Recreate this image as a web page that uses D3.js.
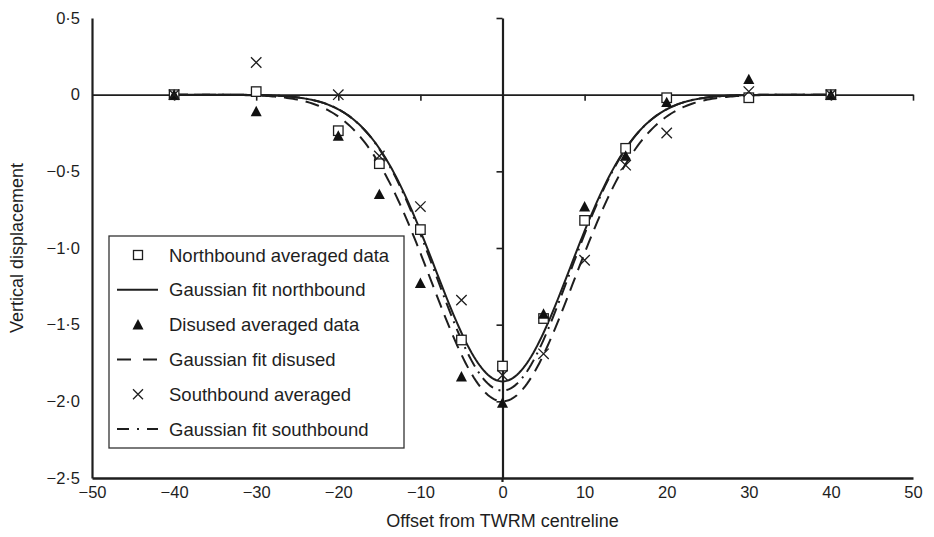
<!DOCTYPE html>
<html>
<head>
<meta charset="utf-8">
<script src="https://cdn.jsdelivr.net/npm/d3@7"></script>
<style>
  html, body { margin: 0; padding: 0; background: #fff; }
  svg { display: block; font-family: "Liberation Sans", Arial, sans-serif; }
</style>
</head>
<body>
<svg id="chart" width="934" height="537"></svg>
<script>
// Offsets (m) at which settlement was averaged
const offsets = [-40, -30, -20, -15, -10, -5, 0, 5, 10, 15, 20, 30, 40];

// Averaged vertical displacement for each tunnel
const northbound = [0, 0.02, -0.235, -0.45, -0.88, -1.60, -1.77, -1.46, -0.82, -0.35, -0.02, -0.02, 0];
const disused    = [0, -0.11, -0.27, -0.65, -1.23, -1.84, -2.01, -1.43, -0.73, -0.40, -0.05, 0.10, 0];
const southbound = [0, 0.21, 0.0, -0.40, -0.73, -1.34, -1.83, -1.69, -1.08, -0.46, -0.25, 0.02, 0];

// Gaussian fit parameters: peak displacement and trough width
const fitNames  = ["northbound", "disused", "southbound"];
const fitPeaks  = [-1.87, -2.00, -1.93];
const fitWidths = [8.2, 8.7, 8.15];
const fitDashes = [null, "14,8", "14,6,2,6"];
const fitRange  = [-40, 40];

const xTicks = [-50, -40, -30, -20, -10, 0, 10, 20, 30, 40, 50];
const yTicks = [0.5, 0, -0.5, -1.0, -1.5, -2.0, -2.5];

const legendItems = [
  { label: "Northbound averaged data", type: "square" },
  { label: "Gaussian fit northbound", type: "line", dash: null },
  { label: "Disused averaged data", type: "triangle" },
  { label: "Gaussian fit disused", type: "line", dash: "14,12" },
  { label: "Southbound averaged", type: "cross" },
  { label: "Gaussian fit southbound", type: "line", dash: "12,8,2,8" }
];

const svg = d3.select("#chart");
const x = d3.scaleLinear().domain([-50, 50]).range([92, 913]);
const y = d3.scaleLinear().domain([-2.5, 0.5]).range([478, 18]);

const fmtY = d => d === 0 ? "0" : d3.format(".1f")(d).replace(".", "\u00B7");
const fmtX = d => d3.format("d")(d);
const ink = "#1e1e1e";

// Left axis with labels
const left = svg.append("g").attr("transform", `translate(${x(-50)},0)`)
  .call(d3.axisLeft(y).tickValues(yTicks).tickFormat(fmtY).tickSize(0).tickSizeOuter(0).tickPadding(12));
left.select(".domain").attr("stroke", ink).attr("stroke-width", 2.2);
left.selectAll("text").attr("font-size", 16.5).attr("fill", ink);

// Bottom axis with labels
const bottom = svg.append("g").attr("transform", `translate(0,${y(-2.5)})`)
  .call(d3.axisBottom(x).tickValues(xTicks).tickFormat(fmtX).tickSize(0).tickSizeOuter(0).tickPadding(8));
bottom.select(".domain").attr("stroke", ink).attr("stroke-width", 2.6);
bottom.selectAll("text").attr("font-size", 16.5).attr("fill", ink);

// Zero displacement line with downward ticks
const zero = svg.append("g").attr("transform", `translate(0,${y(0)})`)
  .call(d3.axisBottom(x).tickValues(xTicks.filter(v => v > -50)).tickFormat("").tickSize(6).tickSizeOuter(0));
zero.select(".domain").attr("stroke", ink).attr("stroke-width", 1.6);
zero.selectAll(".tick line").attr("stroke", ink).attr("stroke-width", 1.6);

// Centreline axis with ticks to the left
const centre = svg.append("g").attr("transform", `translate(${x(0)},0)`)
  .call(d3.axisLeft(y).tickValues(yTicks.filter(v => v !== 0 && v !== -2.5)).tickFormat("").tickSize(6).tickSizeOuter(0));
centre.select(".domain").attr("stroke", ink).attr("stroke-width", 2.2);
centre.selectAll(".tick line").attr("stroke", ink).attr("stroke-width", 1.6);
centre.append("line").attr("x1", 0).attr("x2", 0).attr("y1", y(-2.5)).attr("y2", y(-2.5) + 4)
  .attr("stroke", ink).attr("stroke-width", 2.2);

// Axis titles
svg.append("text").attr("x", x(0)).attr("y", 527).attr("text-anchor", "middle")
  .attr("font-size", 18).attr("fill", ink).text("Offset from TWRM centreline");
svg.append("text").attr("transform", `translate(23,${(y(0.5) + y(-2.5)) / 2}) rotate(-90)`)
  .attr("text-anchor", "middle").attr("font-size", 18).attr("fill", ink).text("Vertical displacement");

// Gaussian fit curves
const line = d3.line().x(d => x(d[0])).y(d => y(d[1]));
fitNames.forEach((name, i) => {
  const pts = d3.range(fitRange[0], fitRange[1] + 0.001, 0.25)
    .map(o => [o, fitPeaks[i] * Math.exp(-(o * o) / (2 * fitWidths[i] * fitWidths[i]))]);
  svg.append("path").datum(pts).attr("class", "fit-" + name)
    .attr("d", line).attr("fill", "none").attr("stroke", ink)
    .attr("stroke-width", 2).attr("stroke-dasharray", fitDashes[i]);
});

// Marker shapes
function drawSquare(g, cx, cy, s) {
  g.append("rect").attr("x", cx - s / 2).attr("y", cy - s / 2).attr("width", s).attr("height", s)
    .attr("fill", "#fff").attr("stroke", ink).attr("stroke-width", 1.3);
}
function drawTriangle(g, cx, cy, s) {
  g.append("path").attr("d", `M${cx},${cy - s * 0.62}L${cx + s * 0.6},${cy + s * 0.52}L${cx - s * 0.6},${cy + s * 0.52}Z`)
    .attr("fill", "#111");
}
function drawCross(g, cx, cy, s) {
  g.append("path").attr("d", `M${cx - s},${cy - s}L${cx + s},${cy + s}M${cx - s},${cy + s}L${cx + s},${cy - s}`)
    .attr("stroke", ink).attr("stroke-width", 1.3).attr("fill", "none");
}

const marks = svg.append("g");
offsets.forEach((o, i) => drawSquare(marks, x(o), y(northbound[i]), 9.5));
offsets.forEach((o, i) => drawTriangle(marks, x(o), y(disused[i]), 9.2));
offsets.forEach((o, i) => drawCross(marks, x(o), y(southbound[i]), 5.2));

// Legend
const lg = svg.append("g");
lg.append("rect").attr("x", 109).attr("y", 236).attr("width", 295).attr("height", 212)
  .attr("fill", "#fff").attr("stroke", "#333").attr("stroke-width", 1.3);
legendItems.forEach((it, i) => {
  const cy = 255 + i * 34.8;
  const g = lg.append("g");
  if (it.type === "square") drawSquare(g, 138, cy, 9);
  else if (it.type === "triangle") drawTriangle(g, 138, cy, 9.2);
  else if (it.type === "cross") drawCross(g, 138, cy, 5);
  else g.append("line").attr("x1", 117).attr("x2", 158).attr("y1", cy).attr("y2", cy)
    .attr("stroke", ink).attr("stroke-width", 2).attr("stroke-dasharray", it.dash);
  g.append("text").attr("x", 169).attr("y", cy).attr("dy", "0.36em")
    .attr("font-size", 18.5).attr("fill", ink).text(it.label);
});
</script>
</body>
</html>
